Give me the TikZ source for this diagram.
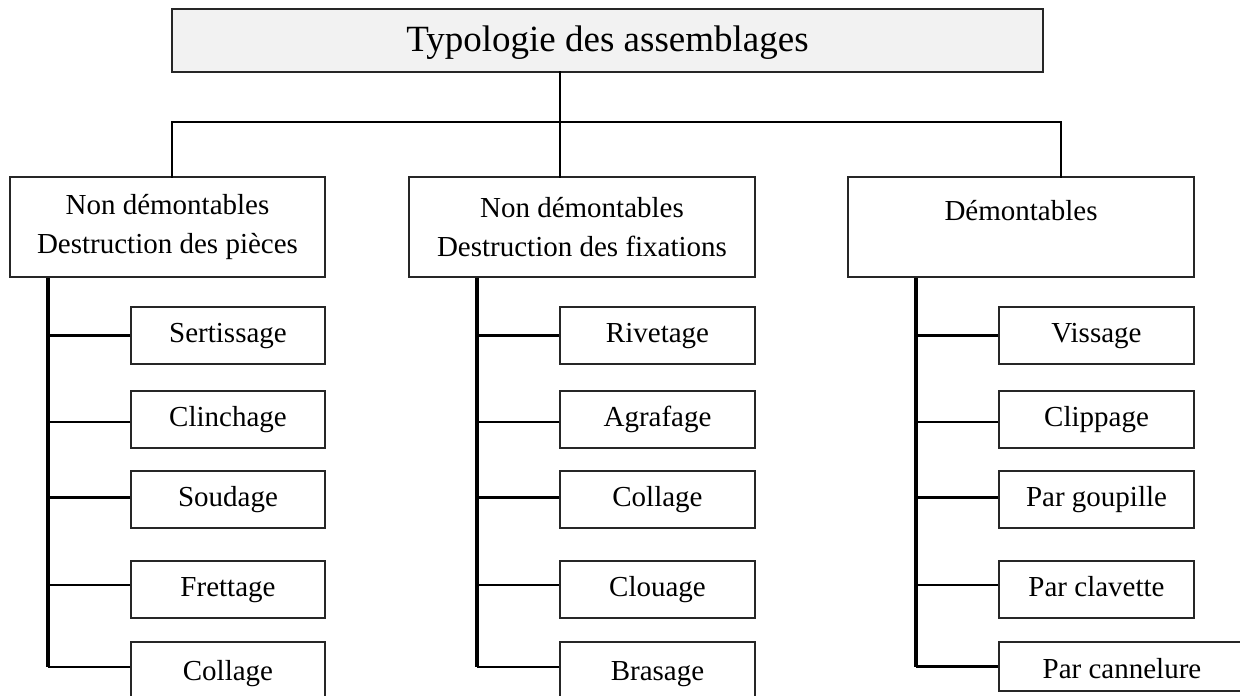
\documentclass[tikz,border=0pt]{standalone}
\usepackage{fontspec}
\setmainfont{Liberation Serif}
\definecolor{titlefill}{HTML}{F2F2F2}
\tikzset{
  boxbase/.style={draw=black!85, line width=1.3bp, inner sep=0pt, align=center},
  titlebox/.style={boxbase, fill=titlefill, minimum width=871bp, minimum height=63bp,
     font=\fontsize{37bp}{44bp}\selectfont, text height=26bp, text depth=3bp},
  catbox/.style={boxbase, minimum height=100bp, font=\fontsize{29bp}{39bp}\selectfont},
  itembox/.style={boxbase, minimum width=195bp, minimum height=57bp,
     font=\fontsize{29bp}{39bp}\selectfont, text height=20bp, text depth=6bp},
  lastitem/.style={text height=22bp, text depth=3bp},
  conn/.style={line width=2.6bp, line cap=rect},
  trunk/.style={line width=3.4bp},
  branch/.style={line width=2.2bp}
}
\begin{document}
\begin{tikzpicture}[x=1bp, y=-1bp]
\useasboundingbox (0,0) rectangle (1240,696);

% title
\node[titlebox] (T) at (607.5,40.5) {Typologie des assemblages};

% categories
\node[catbox, minimum width=315bp] (b1) at (167.5,227) {Non démontables\\Destruction des pièces};
\node[catbox, minimum width=346bp] (b2) at (582,227) {Non démontables\\Destruction des fixations};
\node[catbox, minimum width=346bp] (b3) at (1021,227) {Démontables\\[-5bp]\mbox{}};

% bar coordinates
\coordinate (barL) at (172,122);
\coordinate (barM) at (560,122);
\coordinate (barR) at (1061,122);

\draw[conn] (T.south -| barM) -- (b2.north -| barM);
\draw[conn] (b1.north -| barL) |- (barR) -- (b3.north -| barR);

% column 1
\node[itembox, minimum width=194bp] (s11) at (228,335.5) {Sertissage};
\node[itembox, minimum width=194bp] (s12) at (228,419.5) {Clinchage};
\node[itembox, minimum width=194bp] (s13) at (228,499.5) {Soudage};
\node[itembox, minimum width=194bp] (s14) at (228,589.5) {Frettage};
\node[itembox, lastitem, minimum width=194bp] (s15) at (228,670.5) {Collage};

% column 2
\node[itembox] (s21) at (657.5,335.5) {Rivetage};
\node[itembox] (s22) at (657.5,419.5) {Agrafage};
\node[itembox] (s23) at (657.5,499.5) {Collage};
\node[itembox] (s24) at (657.5,589.5) {Clouage};
\node[itembox, lastitem] (s25) at (657.5,670.5) {Brasage};

% column 3
\node[itembox] (s31) at (1096.5,335.5) {Vissage};
\node[itembox] (s32) at (1096.5,419.5) {Clippage};
\node[itembox] (s33) at (1096.5,499.5) {Par goupille};
\node[itembox] (s34) at (1096.5,589.5) {Par clavette};
\node[itembox, minimum width=246bp, minimum height=49bp, text height=26bp, text depth=3bp] (s35) at (1122,666.5) {Par cannelure};

% trunks
\coordinate (t1) at (48,0);
\coordinate (t2) at (477,0);
\coordinate (t3) at (916,0);

\foreach \c/\b in {1/b1,2/b2}{
  \draw[trunk] (\b.south -| t\c) -- ([yshift=3.5bp]s\c5.west -| t\c);
}
\draw[trunk] (b3.south -| t3) -- (s35.west -| t3);

\foreach \c in {1,2,3}{
  \draw[branch] (s\c1.west) -- (s\c1.west -| t\c);
  \draw[branch] ([yshift=-2.5bp]s\c2.west) -- ([yshift=-2.5bp]s\c2.west -| t\c);
  \draw[branch] ([yshift=2bp]s\c3.west) -- ([yshift=2bp]s\c3.west -| t\c);
  \draw[branch] ([yshift=4.5bp]s\c4.west) -- ([yshift=4.5bp]s\c4.west -| t\c);
}
\draw[branch] ([yshift=3.5bp]s15.west) -- ([yshift=3.5bp]s15.west -| t1);
\draw[branch] ([yshift=3.5bp]s25.west) -- ([yshift=3.5bp]s25.west -| t2);
\draw[branch] (s35.west) -- (s35.west -| t3);
\end{tikzpicture}
\end{document}
